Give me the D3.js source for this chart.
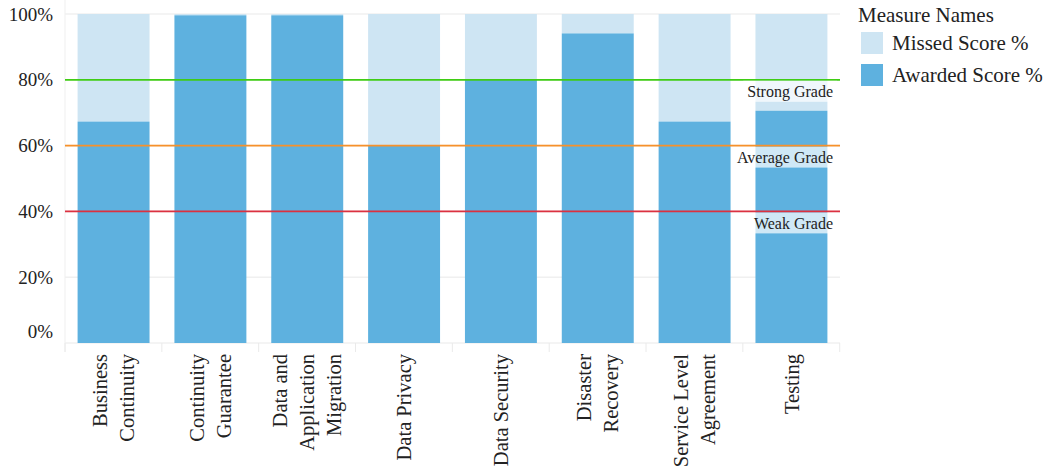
<!DOCTYPE html>
<html><head><meta charset="utf-8">
<script src="https://cdn.jsdelivr.net/npm/d3@7"></script>
<style>body{margin:0;background:#fff}svg{display:block}text{font-family:"Liberation Serif",serif;fill:#222}</style>
</head><body><svg id="c" width="1047" height="470"></svg>
<script>
const categories = [["Business","Continuity"],["Continuity","Guarantee"],["Data and","Application","Migration"],["Data Privacy"],["Data Security"],["Disaster","Recovery"],["Service Level","Agreement"],["Testing"]];
const awarded = [67.3, 99.6, 99.6, 60.1, 80.2, 94.1, 67.3, 70.6];
const missed = awarded.map(v => 100 - v);
const yTicks = [0, 20, 40, 60, 80, 100];
const refValues = [80, 60, 40];
const refLabels = ["Strong Grade", "Average Grade", "Weak Grade"];
const refColors = ["#3fcc14", "#f7912a", "#dc3140"];
const seriesNames = ["Missed Score %", "Awarded Score %"];
const seriesColors = ["#cee5f3", "#5eb1df"];

const svg = d3.select("#c");
const L = 65, R = 840, T = 14, B = 343;
const x = d3.scaleBand().domain(d3.range(categories.length)).range([L, R]).paddingInner(0.257).paddingOuter(0.13);
const y = d3.scaleLinear().domain([0, 100]).range([B, T]);

// gridlines
svg.append("g").selectAll("line").data(yTicks).join("line")
  .attr("x1", L).attr("x2", R).attr("y1", d => y(d)).attr("y2", d => y(d))
  .attr("stroke", "#f0f0f0").attr("stroke-width", 1.5);
svg.append("line").attr("x1", L).attr("x2", L).attr("y1", 0).attr("y2", 352).attr("stroke", "#efefef");
// header separators
const seps = d3.range(categories.length + 1).map(i => L + i * x.step());
svg.append("g").selectAll("line").data(seps).join("line")
  .attr("x1", d => d).attr("x2", d => d).attr("y1", B).attr("y2", 352)
  .attr("stroke", "#eaeaea");

// bars
const g = svg.append("g");
g.selectAll("rect.m").data(missed).join("rect").attr("class", "m")
  .attr("x", (d, i) => x(i)).attr("width", x.bandwidth())
  .attr("y", y(100)).attr("height", (d, i) => y(awarded[i]) - y(100))
  .attr("fill", seriesColors[0]);
g.selectAll("rect.a").data(awarded).join("rect").attr("class", "a")
  .attr("x", (d, i) => x(i)).attr("width", x.bandwidth())
  .attr("y", d => y(d)).attr("height", d => B - y(d))
  .attr("fill", seriesColors[1]);

// y axis labels
svg.append("g").selectAll("text").data(yTicks).join("text")
  .attr("x", 53).attr("y", d => d === 0 ? y(d) - 12 : y(d))
  .attr("dy", "0.35em").attr("text-anchor", "end").attr("font-size", 19)
  .text(d => d + "%");

// reference lines
const rg = svg.append("g");
refValues.forEach((v, i) => {
  rg.append("line").attr("x1", L).attr("x2", R).attr("y1", y(v)).attr("y2", y(v))
    .attr("stroke", refColors[i]).attr("stroke-width", 1.7);
  const t = rg.append("text").attr("x", 833).attr("y", y(v) + 12).attr("dy", "0.35em")
    .attr("text-anchor", "end").attr("font-size", 16).text(refLabels[i]);
  const bb = t.node().getBBox();
  rg.insert("rect", "text").attr("x", bb.x - 4).attr("y", y(v) + 1).attr("width", bb.width + 8).attr("height", 21)
    .attr("fill", "#fff").attr("fill-opacity", 0.7);
});
rg.selectAll("text").raise();

// x labels
const xl = svg.append("g");
categories.forEach((lines, i) => {
  const cx = x(i) + x.bandwidth() / 2;
  const n = lines.length, sp = 27;
  const t = xl.append("text").attr("transform", `translate(${cx},354) rotate(-90)`)
    .attr("text-anchor", "end").attr("font-size", 20.5);
  lines.forEach((s, j) => {
    t.append("tspan").attr("x", 0).attr("y", (j - (n - 1) / 2) * sp).attr("dy", "0.35em").text(s);
  });
});

// legend
svg.append("text").attr("x", 858).attr("y", 22).attr("font-size", 21).text("Measure Names");
seriesNames.forEach((s, i) => {
  svg.append("rect").attr("x", 861).attr("y", 32 + i * 32).attr("width", 22).attr("height", 22).attr("fill", seriesColors[i]);
  svg.append("text").attr("x", 892).attr("y", 43 + i * 32).attr("dy", "0.35em").attr("font-size", 21).text(s);
});
</script></body></html>
